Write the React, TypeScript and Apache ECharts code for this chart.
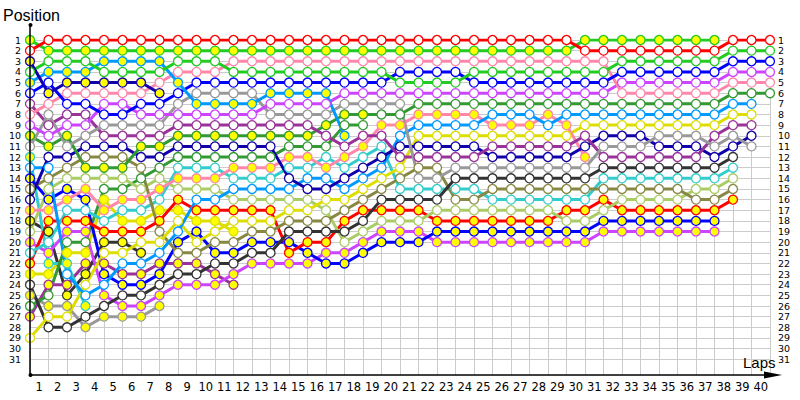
import { useEffect, useRef } from "react";
import * as echarts from "echarts";

const _ = null;

const lapLabels = ["1","2","3","4","5","6","7","8","9","10","11","12","13","14","15","16","17","18","19","20","21","22","23","24","25","26","27","28","29","30","31","32","33","34","35","36","37","38","39","40"];

// positions per column (col 0 = start, col k = end of lap k)
const redW = [2,1,1,1,1,1,1,1,1,1, 1,1,1,1,1,1,1,1,1,1, 1,1,1,1,1,1,1,1,1,1, 2,2,2,2,2,2,2,2,1,1, 1];
const greenY = [1,2,2,2,2,2,2,2,2,2, 2,2,2,2,2,2,2,2,2,2, 2,2,2,2,2,2,2,2,2,2, 1,1,1,1,1,1,1,1,_,_, _];
const navyY = [3,6,5,5,5,5,5,6,_,_, _,_,_,_,_,_,_,_,_,_, _,_,_,_,_,_,_,_,_,_, _,_,_,_,_,_,_,_,_,_, _];
const greenW = [4,3,3,3,4,4,4,4,3,3, 3,4,4,4,4,4,4,4,4,4, 5,5,5,5,4,4,4,4,4,4, 4,4,3,3,3,3,3,3,2,2, 2];
const lblueY = [5,4,4,4,3,3,3,3,5,7, 7,7,7,6,6,6,6,10,_,_, _,_,_,_,_,_,_,_,_,_, _,_,_,_,_,_,_,_,_,_, _];
const blueW = [6,5,7,7,8,8,7,7,6,5, 5,5,5,5,5,5,5,5,5,5, 4,4,4,4,5,5,5,5,5,5, 5,5,4,4,4,4,4,4,3,3, 3];
const pinkW = [8,7,6,6,6,6,6,5,4,4, 4,3,3,3,3,3,3,3,3,3, 3,3,3,3,3,3,3,3,3,3, 3,3,6,6,6,6,6,6,5,5, 5];
const violetW = [9,10,9,9,7,7,8,8,8,8, 8,8,8,7,7,7,7,6,6,6, 6,6,6,6,6,6,6,6,6,6, 6,6,5,5,5,5,5,5,4,4, 4];
const grayW = [11,8,11,10,9,9,9,9,7,6, 6,6,6,8,8,8,8,7,7,7, 7,14,14,13,13,13,13,13,13,13, 13,11,11,11,10,10,10,11,10,11, _];
const purpleW = [7,9,8,8,10,10,10,10,9,9, 9,9,9,9,9,9,10,11,10,10, 12,12,12,12,12,11,11,11,11,11, 10,12,12,12,12,12,12,10,9,9, _];
const fgreenY = [10,11,10,13,13,13,11,11,10,10, 10,10,10,10,10,10,9,8,8,8, 8,7,7,7,7,7,7,7,7,7, 7,7,7,7,7,7,7,7,6,6, 6];
const navyW = [16,12,12,11,11,11,12,12,11,11, 11,11,11,11,14,15,15,14,13,12, 11,11,11,11,11,12,12,12,12,12, 11,10,10,10,11,11,11,12,11,10, _];
const lblueW = [13,13,23,25,24,22,22,21,19,16, 16,15,15,15,15,14,14,15,14,13, 10,9,9,9,9,8,8,8,9,8, 8,8,8,8,8,8,8,8,7,7, _];
const pinkY = [17,17,16,15,17,16,16,15,14,14, 14,13,13,13,12,12,13,12,11,9, 9,8,8,8,8,9,9,9,8,9, 12,_,_,_,_,_,_,_,_,_, _];
const yellowW = [29,27,27,24,21,21,20,20,18,20, 19,18,18,18,17,17,16,16,15,14, 13,10,10,10,10,10,10,10,10,10, 9,9,9,9,9,9,9,9,8,8, _];
const dgrayW = [24,28,28,27,26,25,25,24,23,23, 22,22,21,21,19,19,19,19,18,16, 16,16,16,14,14,14,14,14,14,14, 14,13,13,13,13,13,13,13,12,_, _];
const oliveW = [15,14,13,12,12,12,13,19,21,21, 20,20,19,19,18,18,18,17,16,15, 14,13,13,16,16,15,15,15,15,15, 15,15,15,15,15,15,16,16,15,_, _];
const lgreenW = [19,15,14,14,14,14,15,14,15,15, 15,16,16,16,16,16,17,20,19,18, 18,18,17,17,17,17,17,17,17,18, 18,17,16,16,16,16,15,15,14,_, _];
const cyanW = [21,20,17,17,18,17,17,16,13,13, 13,14,14,14,13,13,12,13,12,11, 15,15,15,15,15,16,16,16,16,16, 16,14,14,14,14,14,14,14,13,_, _];
const redY = [22,18,18,18,19,19,19,18,16,17, 17,17,17,17,21,20,20,18,17,17, 17,17,18,18,18,18,18,18,18,17, 17,16,17,17,17,17,17,17,16,_, _];
const blueY = [14,16,15,16,23,24,24,23,20,19, 21,21,20,20,20,21,22,22,21,20, 20,20,19,19,19,19,19,19,19,19, 19,18,18,18,18,18,18,18,_,_, _];
const violetY = [20,21,19,19,25,26,26,25,24,24, 24,23,22,22,22,22,21,21,20,19, 19,19,20,20,20,20,20,20,20,20, 20,19,19,19,19,19,19,19,_,_, _];
const cyanY = [12,22,22,26,_,_,_,_,_,_, _,_,_,_,_,_,_,_,_,_, _,_,_,_,_,_,_,_,_,_, _,_,_,_,_,_,_,_,_,_, _];
const dgrayY = [18,19,25,23,20,20,21,_,_,_, _,_,_,_,_,_,_,_,_,_, _,_,_,_,_,_,_,_,_,_, _,_,_,_,_,_,_,_,_,_, _];
const grayY = [25,26,26,28,27,27,27,26,_,_, _,_,_,_,_,_,_,_,_,_, _,_,_,_,_,_,_,_,_,_, _,_,_,_,_,_,_,_,_,_, _];
const purpleY = [27,24,24,22,22,23,23,22,22,22, 23,24,_,_,_,_,_,_,_,_, _,_,_,_,_,_,_,_,_,_, _,_,_,_,_,_,_,_,_,_, _];
const yellowY = [23,23,21,21,16,18,18,17,17,18, 18,19,_,_,_,_,_,_,_,_, _,_,_,_,_,_,_,_,_,_, _,_,_,_,_,_,_,_,_,_, _];
const fgreenW = [26,25,20,20,15,15,14,13,12,12, 12,12,12,12,11,11,11,9,9,_, _,_,_,_,_,_,_,_,_,_, _,_,_,_,_,_,_,_,_,_, _];

// marker fill per column: y = yellow, w = white (a single letter applies to all columns)
const fgreenYFill = "yyyyyyyyyyyyyyyyyyywwwwwwwwwwwwwwwwwwwwww";

const drivers = [
  { name: "P", color: "#999999", pos: grayY, fill: "y" },
  { name: "O", color: "#993399", pos: purpleY, fill: "y" },
  { name: "N", color: "#dddd00", pos: yellowY, fill: "y" },
  { name: "M", color: "#333333", pos: dgrayY, fill: "y" },
  { name: "L", color: "#33cccc", pos: cyanY, fill: "y" },
  { name: "K", color: "#339933", pos: fgreenW, fill: "w" },
  { name: "J2", color: "#cc44ff", pos: violetY, fill: "y" },
  { name: "J", color: "#0000ff", pos: blueY, fill: "y" },
  { name: "I", color: "#ff0000", pos: redY, fill: "y" },
  { name: "H2", color: "#33cccc", pos: cyanW, fill: "w" },
  { name: "H", color: "#aacc66", pos: lgreenW, fill: "w" },
  { name: "G2", color: "#888844", pos: oliveW, fill: "w" },
  { name: "G", color: "#333333", pos: dgrayW, fill: "w" },
  { name: "F2", color: "#dddd00", pos: yellowW, fill: "w" },
  { name: "F", color: "#ff88aa", pos: pinkY, fill: "y" },
  { name: "E2", color: "#0099ff", pos: lblueW, fill: "w" },
  { name: "E", color: "#1100aa", pos: navyW, fill: "w" },
  { name: "D2", color: "#339933", pos: fgreenY, fill: fgreenYFill },
  { name: "D", color: "#993399", pos: purpleW, fill: "w" },
  { name: "C2", color: "#999999", pos: grayW, fill: "w" },
  { name: "C", color: "#cc44ff", pos: violetW, fill: "w" },
  { name: "B3", color: "#ff88aa", pos: pinkW, fill: "w" },
  { name: "B2", color: "#0000ff", pos: blueW, fill: "w" },
  { name: "B", color: "#0099ff", pos: lblueY, fill: "y" },
  { name: "A3", color: "#22cc22", pos: greenW, fill: "w" },
  { name: "A2", color: "#1100aa", pos: navyY, fill: "y" },
  { name: "A1", color: "#22cc22", pos: greenY, fill: "y" },
  { name: "A0", color: "#ff0000", pos: redW, fill: "w" },
];

const FONT = "DejaVu Sans";

function fillAt(fill: string, i: number) {
  const f = fill.length === 1 ? fill : fill[i];
  return f === "y" ? "#ffff00" : "#ffffff";
}

export default function App() {
  const ref = useRef<HTMLDivElement>(null);
  useEffect(() => {
    document.body.style.margin = "0";
    const chart = echarts.init(ref.current!, null, { renderer: "svg" });
    const series = drivers.map((d) => ({
      type: "line",
      name: d.name,
      xAxisIndex: 0,
      yAxisIndex: 0,
      symbol: "circle",
      symbolSize: 9,
      showSymbol: true,
      silent: true,
      emphasis: { disabled: true },
      lineStyle: { color: d.color, width: 3 },
      itemStyle: { color: "#ffffff", borderColor: d.color, borderWidth: 1.3 },
      data: d.pos
        .map((p, i) =>
          p == null ? null : { value: [i, p], itemStyle: { color: fillAt(d.fill, i), borderColor: d.color, borderWidth: 1.3 } }
        )
        .filter((x) => x !== null),
    }));
    chart.setOption({
      animation: false,
      grid: { left: 30, right: 30, top: 40, bottom: 40.8, containLabel: false },
      xAxis: [
        {
          type: "value", min: 0, max: 40, interval: 1, position: "bottom", offset: 16,
          axisLine: { show: false },
          axisTick: { show: true, inside: true, length: 16, lineStyle: { color: "#cccccc", width: 1 } },
          axisLabel: { show: false },
          splitLine: { show: true, lineStyle: { color: "#cccccc", width: 1 } },
        },
        {
          type: "category", data: lapLabels, boundaryGap: true, position: "bottom", offset: 16,
          axisLine: { show: false }, axisTick: { show: false },
          axisLabel: { color: "#000", fontSize: 11.5, fontFamily: FONT, margin: 6, interval: 0 },
          splitLine: { show: false },
        },
      ],
      yAxis: [
        {
          type: "value", inverse: true, min: 1, max: 31, interval: 1, position: "left",
          axisLine: { show: false }, axisTick: { show: false },
          axisLabel: { color: "#000", fontSize: 9.5, fontFamily: FONT, margin: 9 },
          splitLine: { show: true, lineStyle: { color: "#cccccc", width: 1 } },
        },
        {
          type: "value", inverse: true, min: 1, max: 31, interval: 1, position: "right",
          axisLine: { show: false }, axisTick: { show: false },
          axisLabel: { color: "#000", fontSize: 9.5, fontFamily: FONT, margin: 8 },
          splitLine: { show: false },
        },
      ],
      graphic: [
        { type: "line", shape: { x1: 30, y1: 25, x2: 30, y2: 375 }, style: { stroke: "#000", lineWidth: 1.5 }, z: 50 },
        { type: "line", shape: { x1: 30, y1: 375, x2: 770, y2: 375 }, style: { stroke: "#000", lineWidth: 1.5 }, z: 50 },
        { type: "polygon", shape: { points: [[764, 371.5], [782, 375], [764, 378.5]] }, style: { fill: "#000" }, z: 50 },
        { type: "circle", shape: { cx: 30.5, cy: 25, r: 2 }, style: { fill: "#000" }, z: 50 },
        { type: "circle", shape: { cx: 30.5, cy: 375, r: 2 }, style: { fill: "#000" }, z: 50 },
        { type: "text", x: 3, y: 15.5, style: { text: "Position", fontSize: 16, fontFamily: "Liberation Sans", fill: "#000", verticalAlign: "middle" }, z: 50 },
        { type: "text", x: 743, y: 362.5, style: { text: "Laps", fontSize: 15, fontFamily: "Liberation Sans", fill: "#000", verticalAlign: "middle" }, z: 50 },
      ],
      series,
    });
    return () => chart.dispose();
  }, []);
  return <div ref={ref} style={{ width: 800, height: 400 }} />;
}
